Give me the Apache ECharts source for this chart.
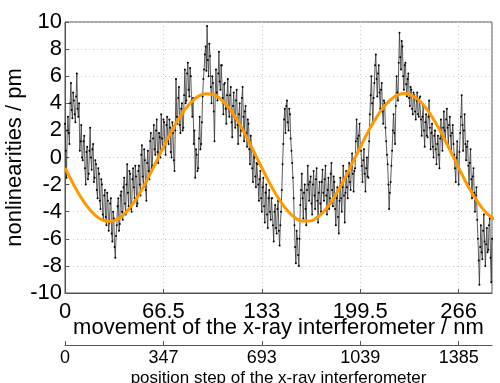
<!DOCTYPE html>
<html>
<head>
<meta charset="utf-8">
<script src="https://cdn.jsdelivr.net/npm/echarts@6/dist/echarts.min.js"></script>
<style>html,body{margin:0;padding:0;background:#fff}#c{width:500px;height:383px}</style>
</head>
<body>
<div id="c"></div>
<script>
// ---- data ----
const nmStep = 0.5; // sample spacing in nm, first sample at 0 nm
const nonlinearity = [
 2.5, 0.5, -1.5, 2.0, 3.0, 1.8, 1.0, 4.0, 5.5, 3.5,
 2.9, 4.8, 4.2, 3.2, 2.6, 4.5, 6.2, 3.6, 3.0, 4.0,
 0.5, 1.2, 2.4, 0.0, -0.2, 1.2, 1.6, -0.8, -2.0, 0.4,
 0.8, -1.6, -1.2, 0.5, 2.2, 0.0, -0.9, 0.6, 1.0, -1.8,
 -1.5, -0.2, -0.5, -2.4, -3.0, -0.8, -1.2, -3.2, -3.8, -1.6,
 -2.0, -4.2, -4.6, -2.8, -2.4, -4.4, -5.0, -2.6, -3.2, -5.4,
 -4.8, -3.4, -3.0, -5.6, -6.2, -4.0, -4.5, -6.6, -7.4, -5.8,
 -5.0, -3.6, -3.0, -5.4, -4.9, -2.8, -2.5, -4.0, -4.6, -2.2,
 -1.5, -3.4, -4.2, -2.0, -0.5, -2.6, -3.6, -1.0, -1.2, -3.8,
 -4.0, -1.6, -0.8, -2.2, -3.0, -0.6, -1.4, -3.6, -3.4, -1.0,
 -0.6, -2.0, -2.8, 0.2, 0.9, -1.4, -2.2, 0.6, -0.2, -2.4,
 -3.2, -0.4, 0.5, -1.0, -1.6, 1.2, 1.8, -0.8, -0.6, 1.4,
 2.4, 0.6, 0.2, 2.0, 2.8, 0.4, -0.4, 1.8, 1.5, 0.0,
 3.2, 1.4, 0.6, 2.8, 2.6, 0.8, 0.2, 2.4, 3.0, 1.2,
 1.0, 2.8, 2.2, 0.4, 0.0, 2.6, 1.8, -0.2, -1.0, 2.0,
 5.8, 3.0, 2.5, 4.4, 5.2, 2.4, 1.8, 3.6, 4.0, 2.0,
 2.2, 4.6, 6.5, 4.0, 4.2, 6.2, 7.0, 5.0, 4.5, 6.6,
 6.0, 4.2, 3.0, 4.4, 1.0, 2.0, -1.5, 0.6, 0.2, -1.0,
 -0.8, 1.4, 3.0, 0.6, 1.0, 2.6, 4.5, 5.8, 6.5, 7.6,
 8.2, 6.4, 9.7, 7.2, 6.0, 8.4, 7.5, 5.2, 4.0, 6.0,
 5.5, 3.4, 1.2, 4.6, 6.5, 4.8, 4.2, 6.2, 7.8, 5.6,
 5.0, 6.8, 6.8, 4.4, 3.2, 5.4, 5.5, 3.6, 2.5, 4.6,
 5.8, 3.6, 3.0, 4.6, 5.2, 2.6, 1.5, 3.8, 4.8, 3.0,
 2.2, 4.2, 5.0, 2.4, 1.0, 3.2, 4.0, 1.6, 2.0, 4.4,
 5.2, 3.0, 1.2, 3.4, 3.8, 1.8, 0.8, 2.8, 2.5, 0.6,
 -0.5, 1.6, 0.8, -0.8, -1.8, 0.4, 0.0, -1.4, -2.2, -0.4,
 -0.5, -2.0, -3.2, -1.6, -1.0, -3.0, -4.0, -2.2, -1.5, -3.6,
 -4.8, -2.6, -2.0, -4.2, -5.2, -3.0, -2.4, -4.0, -4.6, -3.0,
 -3.0, -5.0, -6.2, -4.0, -3.5, -5.2, -5.6, -3.8, -3.2, -5.4,
 -6.5, -5.0, -4.0, -2.4, -0.5, 1.0, 2.8, 3.6, 1.8, 3.8,
 4.2, 2.6, 2.0, 3.6, 3.2, 1.4, 0.5, -0.4, -1.5, -3.0,
 -5.0, -6.6, -7.8, -5.4, -6.0, -7.2, -8.0, -6.0, -3.5, -2.4,
 -1.2, -3.0, -4.5, -2.6, -2.0, -3.8, -5.0, -2.4, -0.6, -2.0,
 -3.2, -1.8, -1.4, -3.4, -4.2, -2.0, -1.0, -2.8, -3.8, -1.6,
 -0.8, -3.2, -4.8, -2.6, -1.8, -3.4, -4.0, -1.8, -0.9, -2.6,
 -3.2, -1.6, -0.6, -2.8, -4.2, -2.4, -1.5, -3.8, -3.0, -1.2,
 -0.4, -2.4, -3.6, -1.4, -1.8, -3.8, -5.0, -3.0, -2.2, -4.4,
 -5.6, -3.2, -1.5, -3.0, -4.0, -2.2, -0.6, -2.8, -4.8, -2.6,
 -1.0, -2.2, -3.0, -1.4, -0.4, -1.8, -2.4, -0.6, 0.3, -1.2,
 -2.5, -1.0, -0.8, 1.2, 2.8, 1.4, 0.4, 1.6, 2.5, 0.8,
 0.5, -0.6, -1.8, -0.2, 0.6, -1.2, -2.5, -0.8, 0.0, -1.4,
 -1.5, 1.2, 3.2, 4.6, 6.0, 4.0, 2.5, 4.4, 5.5, 6.8,
 7.6, 5.8, 4.5, 6.2, 6.8, 4.8, 3.6, 5.0, 5.5, 3.4,
 2.5, 4.2, 4.0, 2.2, 1.2, 0.2, -0.5, -2.0, -3.8, -2.6,
 -1.8, -0.6, 0.5, 2.0, 3.2, 1.8, 1.0, 3.8, 6.0, 4.8,
 4.2, 7.0, 9.2, 7.4, 6.5, 8.6, 8.2, 6.0, 5.0, 6.8,
 7.0, 5.4, 4.5, 5.8, 6.2, 4.4, 3.8, 5.2, 5.0, 3.6,
 3.2, 4.8, 4.6, 3.4, 2.8, 4.2, 4.8, 3.2, 3.0, 4.4,
 4.5, 2.8, 1.6, 3.0, 3.8, 2.0, 0.8, 2.6, 3.2, 1.6,
 1.5, 3.0, 4.2, 2.2, 0.6, 1.8, 2.5, 0.8, 0.0, 1.6,
 2.0, 0.6, -0.5, 1.0, 1.6, 0.2, -0.8, 1.4, 2.8, 1.6,
 0.5, 2.2, 3.4, 2.0, 1.2, 2.8, 3.6, 2.2, 0.8, 2.4,
 3.0, 1.6, 0.4, 1.8, 2.4, 1.0, 0.2, -0.8, -1.8, 0.0,
 1.2, -0.6, -2.0, 0.4, 1.8, 3.0, 4.6, 2.4, 0.5, 2.0,
 3.2, 1.0, -0.2, 0.8, 1.2, -0.6, -2.0, -0.4, 0.6, -1.6,
 -3.0, -1.4, -0.8, -2.6, -4.0, -2.8, -2.2, -4.6, -6.0, -7.6,
 -9.4, -6.6, -5.0, -7.0, -7.5, -5.4, -4.2, -6.2, -8.0, -6.4,
 -5.2, -7.0, -6.8, -5.0, -4.5, -7.4, -9.2, -6.0
];
const fitX = [0,5,10,15,20,25,30,35,40,45,50,55,60,65,70,75,80,85,90,95,100,105,110,115,120,125,130,135,140,145,150,155,160,165,170,175,180,185,190,195,200,205,210,215,220,225,230,235,240,245,250,255,260,265,270,275,280,285,290];
const fitY = [-0.77,-1.83,-2.80,-3.61,-4.22,-4.60,-4.72,-4.58,-4.18,-3.55,-2.73,-1.75,-0.68,0.43,1.52,2.52,3.39,4.06,4.51,4.71,4.65,4.33,3.77,3.00,2.06,1.01,-0.10,-1.20,-2.24,-3.15,-3.88,-4.40,-4.68,-4.69,-4.45,-3.96,-3.25,-2.35,-1.33,-0.23,0.87,1.94,2.89,3.68,4.27,4.62,4.72,4.55,4.13,3.48,2.64,1.65,0.57,-0.54,-1.63,-2.62,-3.46,-4.12,-4.54];
const xTicksNm = ['0','66.5','133','199.5','266'];
const stepTicks = ['0','347','693','1039','1385'];
const yTicks = [-10,-8,-6,-4,-2,0,2,4,6,8,10];

// ---- chart ----
const FONT = 'Liberation Sans, Arial, sans-serif';
const xMax = 288.5, xInt = 66.5;
const mainData = nonlinearity.map((v, i) => [i * nmStep, v]);
const fitData = fitX.map((x, i) => [x, fitY[i]]);
const tickFmt = labels => v => { const k = Math.round(v / xInt); return Math.abs(v - k * xInt) < 1e-6 && labels[k] !== undefined ? labels[k] : ''; };

const chart = echarts.init(document.getElementById('c'), null, {renderer: 'canvas'});
chart.setOption({
  animation: false,
  backgroundColor: '#fff',
  textStyle: {fontFamily: FONT},
  grid: {left: 65, right: 8, top: 22, bottom: 90, outerBoundsMode: 'none', containLabel: false,
         show: true, borderColor: '#555', borderWidth: 1, backgroundColor: 'transparent'},
  xAxis: [{
    type: 'value', min: 0, max: xMax, interval: xInt,
    position: 'bottom',
    name: 'movement of the x-ray interferometer / nm',
    nameLocation: 'middle', nameGap: 24, nameMoveOverlap: false,
    nameTextStyle: {fontSize: 22, color: '#000', fontFamily: FONT},
    axisLine: {show: true, onZero: false, lineStyle: {color: '#555'}},
    axisTick: {show: true, inside: true, length: 4, lineStyle: {color: '#555'}},
    axisLabel: {fontSize: 22, color: '#000', margin: 8, fontFamily: FONT, showMaxLabel: false, formatter: tickFmt(xTicksNm)},
    splitLine: {show: true, lineStyle: {color: '#c8c8c8', type: [1, 3], width: 1}}
  }, {
    type: 'value', min: 0, max: xMax, interval: xInt,
    position: 'bottom', offset: 52,
    name: 'position step of the x-ray interferometer',
    nameLocation: 'middle', nameGap: 25, nameMoveOverlap: false,
    nameTextStyle: {fontSize: 17, color: '#000', fontFamily: FONT},
    axisLine: {show: true, onZero: false, lineStyle: {color: '#555'}},
    axisTick: {show: true, inside: true, length: 4, lineStyle: {color: '#555'}},
    axisLabel: {fontSize: 18, color: '#000', margin: 4, fontFamily: FONT, showMaxLabel: false, formatter: tickFmt(stepTicks)},
    splitLine: {show: false}
  }],
  yAxis: {
    type: 'value', min: yTicks[0], max: yTicks[yTicks.length - 1], interval: 2,
    name: 'nonlinearities / pm', nameLocation: 'middle', nameGap: 39, nameMoveOverlap: false,
    nameTextStyle: {fontSize: 22, color: '#000', fontFamily: FONT},
    axisLine: {show: true, onZero: false, lineStyle: {color: '#555'}},
    axisTick: {show: true, inside: true, length: 4, lineStyle: {color: '#555'}},
    axisLabel: {fontSize: 22, color: '#000', margin: 3, fontFamily: FONT},
    splitLine: {show: true, lineStyle: {color: '#c8c8c8', type: [1, 3], width: 1}}
  },
  series: [{
    type: 'line', xAxisIndex: 0, data: mainData,
    symbol: 'circle', symbolSize: 2, showAllSymbol: true,
    itemStyle: {color: '#000'},
    lineStyle: {color: '#333', width: 0.8},
    z: 2
  }, {
    type: 'line', xAxisIndex: 0, data: fitData, smooth: true,
    symbol: 'none',
    lineStyle: {color: '#ff9900', width: 3},
    z: 3
  }]
});
</script>
</body>
</html>
